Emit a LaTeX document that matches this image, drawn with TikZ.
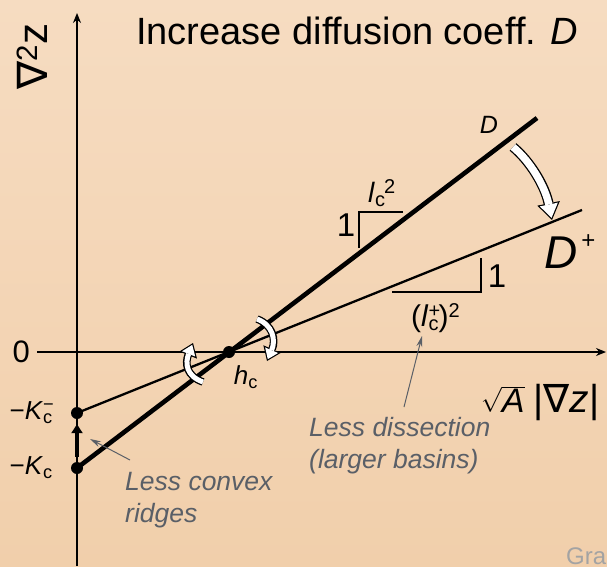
\documentclass[tikz,border=0pt]{standalone}
\usepackage{fontspec}
\setmainfont{Liberation Sans}
\newfontfamily\symfont{DejaVu Sans}
\usetikzlibrary{arrows.meta}
\definecolor{bgtop}{HTML}{F6DCC1}
\definecolor{bgbot}{HTML}{F1CFAB}
\definecolor{notegray}{HTML}{5A5F67}
\definecolor{fadegray}{HTML}{A3A3A3}
\newcommand{\fs}[1]{\fontsize{#1}{#1}\selectfont}
\newcommand{\lowc}{\raisebox{-4pt}{\fs{20}c}}
\newcommand{\hisc}[1]{\raisebox{9pt}{\fs{20}#1}}

\begin{document}
\begin{tikzpicture}[x=1pt, y=1pt, >={Stealth[length=10pt,width=8pt]},
	axis/.style={line width=1.4pt},
	dline/.style={line width=4.6pt},
	dpline/.style={line width=2.3pt},
	slope/.style={line width=1.3pt},
	dot/.style={circle, fill=black, inner sep=0pt, minimum size=12pt},
	lab/.style={font=\fs{26}, inner sep=0pt},
	note/.style={font=\fontsize{26.5}{32}\selectfont\itshape, text=notegray, align=left, inner sep=0pt},
	notearrow/.style={notegray, line width=1pt, -{Stealth[length=11pt,width=6pt]}},
	bigturnout/.style={black, line width=10pt, -{Triangle[line width=0pt, length=17pt, width=23pt]}},
	bigturnin/.style={white, line width=7.4pt, shorten >=2.2pt, -{Triangle[line width=0pt, length=13.6pt, width=18.4pt]}},
	turnout/.style={black, line width=7.6pt, -{Triangle[line width=0pt, length=13pt, width=19pt]}},
	turnin/.style={white, line width=5pt, shorten >=2pt, -{Triangle[line width=0pt, length=9.7pt, width=14.1pt]}}]
	% background
	\shade[top color=bgtop, bottom color=bgbot] (0,0) rectangle (607,566);
	\useasboundingbox (0,0) rectangle (607,566);
	
	% axes
	\coordinate (ybot) at (77,0);
	\coordinate (ytop) at (77,553);
	\coordinate (xleft) at (37,214);
	\coordinate (xright) at (606,214);
	\draw[axis,->] (ybot) -- (ytop);
	\draw[axis,->] (xleft) -- (xright);
	\node[font=\fs{42}, rotate=90, anchor=base west, inner sep=0pt] (ylab) at (47,476) {{\symfont ∇}\textsuperscript{2}z};
	\node[font=\fs{34}, anchor=base west, inner sep=0pt] (xlab) at (481,154) {$\sqrt{\mbox{\itshape A}}$\hspace{9pt}{\fs{39}|{\symfont ∇}\textit{z}|}};
	\node[lab, font=\fs{31}, anchor=east] (zero) at (30,214) {0};
	
	% title
	\node[font=\fs{38}, anchor=base west, inner sep=0pt] (title) at (136,521) {Increase diffusion coeff. \textit{D}};
	
	% intercepts and threshold
	\node[dot] (Kc) at (77,98) {};
	\node[dot] (Kcm) at (77,153) {};
	\node[dot] (hc) at (229,214) {};
	\node[lab, anchor=east] at (53,153) {−\textit{K}\rlap{\textsuperscript{−}}\textsubscript{c}};
	\node[lab, anchor=east] at (53,98) {−\textit{K}\textsubscript{c}};
	\node[lab] (hclab) at (246,189) {\textit{h}\textsubscript{c}};
	
	% lines D and D+
	\coordinate (Dend) at (537,448);
	\coordinate (Dpend) at (582,356);
	\draw[dpline] (Kcm.center) -- (Dpend);
	\draw[dline] (Kc.center) -- (Dend);
	\node[lab, font=\fs{25}\itshape] (Dlab) at (489,441) {D};
	\node[lab, font=\fs{46}, anchor=base west] (Dplab) at (544,298) {\textit{D}\hspace{4pt}\raisebox{20pt}{\fs{24}+}};
	
	% slope triangles
	\draw[slope] (359,318) -- (359,354) -- (403,354);
	\node[lab, font=\fs{33}] at (346,341) {1};
	\node[lab, font=\fs{28}, anchor=base west] (lc) at (368,364) {\textit{l}\lowc\hspace{-1pt}\hisc{2}};
	\draw[slope] (392,274) -- (481,274) -- (481,308);
	\node[lab, font=\fs{33}] at (497,290) {1};
	\node[lab, font=\fs{30}, anchor=base west] (lcp) at (411,240) {(\textit{l}\rlap{\hisc{+}}\lowc)\hisc{2}};
	
	% rotation arrows
	\coordinate (rs) at (513,419);
	\coordinate (re) at (552,346);
	\draw[bigturnout] (rs) .. controls (530,405) and (545,380) .. (re);
	\draw[bigturnin] (rs) .. controls (530,405) and (545,380) .. (re);
	\coordinate (ls) at (203,184);
	\coordinate (le) at (193,223);
	\draw[turnout] (ls) .. controls (186,190) and (185,203) .. (le);
	\draw[turnin] (ls) .. controls (186,190) and (185,203) .. (le);
	\coordinate (qs) at (257,247);
	\coordinate (qe) at (267,205);
	\draw[turnout] (qs) .. controls (273,241) and (276,226) .. (qe);
	\draw[turnin] (qs) .. controls (273,241) and (276,226) .. (qe);
	
	% shift of -Kc
	\draw[line width=3.6pt, -{Triangle[length=9pt,width=11pt]}, shorten <=5pt, shorten >=5pt] (Kc) -- (Kcm);
	
	% notes
	\node[note, anchor=north west] (convex) at (125,94) {Less convex\\ridges};
	\coordinate (cs) at (130,106);
	\coordinate (ce) at (90,127);
	\draw[notearrow] (cs) -- (ce);
	\node[note, anchor=north west] (dissect) at (309,149) {Less dissection\\(larger basins)};
	\coordinate (ds) at (404,159);
	\coordinate (de) at (422,230);
	\draw[notearrow] (ds) -- (de);
	\node[font=\fs{24}, text=fadegray, anchor=north west, inner sep=0pt] (gra) at (566,18) {Gra};
\end{tikzpicture}
\end{document}
